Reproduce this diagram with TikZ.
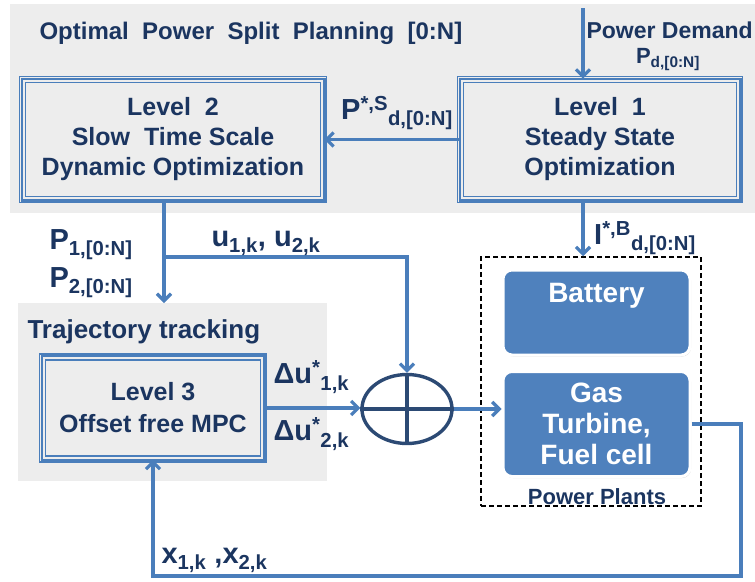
\documentclass[tikz,border=0pt]{standalone}
\usepackage{fontspec}
\setmainfont{Liberation Sans}
\usetikzlibrary{arrows.meta,positioning,calc,shapes.geometric,shadows}

\definecolor{linecol}{HTML}{4A7EBB}
\definecolor{textcol}{HTML}{1B3560}
\definecolor{panelcol}{HTML}{EDEDED}
\definecolor{plantcol}{HTML}{4F81BD}
\definecolor{sumcol}{HTML}{2C4A74}

\begin{document}
\begin{tikzpicture}[x=1pt,y=-1pt,>={Straight Barb[length=7pt,width=14pt]},
   every node/.style={font=\bfseries\fontsize{25}{30}\selectfont,text=textcol},
   panel/.style={fill=panelcol,draw=none,inner sep=0pt},
   levelbox/.style={draw=linecol,line width=1.6pt,double=panelcol,double distance=4.4pt,
     fill=panelcol,inner sep=0pt,align=center},
   midline/.style={draw=linecol,line width=2.4pt},
   flow/.style={draw=linecol,line width=3.2pt},
   sig/.style={font=\bfseries\fontsize{29}{30}\selectfont},
   plant/.style={fill=plantcol,draw=white,line width=3pt,rounded corners=9pt,inner sep=0pt,
     drop shadow={shadow xshift=1pt,shadow yshift=-1.5pt,fill=black!35,opacity=.5}},
   plantlabel/.style={text=white,align=center,font=\bfseries\fontsize{28}{31}\selectfont}]
  \useasboundingbox (0,0) rectangle (755,581);

  % background panels
  \node[panel,anchor=north west,minimum width=745pt,minimum height=209pt] (planpanel) at (10,4) {};
  \node[panel,anchor=north west,minimum width=309pt,minimum height=178pt] (trackpanel) at (18,303) {};
  \node[anchor=west,font=\bfseries\fontsize{24}{28}\selectfont] (title) at (36,33)
    {Optimal\ \ Power\ \ Split\ \ Planning\ \ [0:N]};
  \node[anchor=west,font=\bfseries\fontsize{26}{30}\selectfont] (tracktitle) at (24,332) {Trajectory tracking};

  % level boxes
  \node[levelbox,minimum width=301pt,minimum height=120pt] (l2) at (173,139.5)
    {Level\ \ 2\\ Slow\ \ Time Scale\\ Dynamic Optimization};
  \node[levelbox,minimum width=279pt,minimum height=120pt] (l1) at (600,139.5)
    {Level\ \ 1\\ Steady State\\ Optimization};
  \node[levelbox,minimum width=221pt,minimum height=102pt,
    font=\bfseries\fontsize{25}{32}\selectfont] (l3) at (153,408)
    {Level 3\\ Offset\ free\ MPC};
  \foreach \n in {l1,l2,l3}
    \draw[midline] (\n.south west) rectangle (\n.north east);

  % power plants
  \node[draw=black,dash pattern=on 5pt off 3pt,line width=1.5pt,minimum width=220pt,minimum height=249pt] (plants) at (591,381.5) {};
  \node[font=\bfseries\fontsize{22}{26}\selectfont] (plantstitle) at (597,497) {Power Plants};
  \node[plant,minimum width=187pt,minimum height=85pt] (batt) at (596.5,312.5) {};
  \node[plantlabel] (battlabel) at ($(batt.north)+(0,27)$) {Battery};
  \node[plant,minimum width=187pt,minimum height=105pt] (gas) at (596.5,424) {};
  \node[plantlabel] (gaslabel) at (gas) {Gas\\ Turbine,\\ Fuel cell};

  % summing junction
  \node[ellipse,draw=sumcol,line width=3.4pt,minimum width=90pt,minimum height=69pt,inner sep=0pt] (sum) at (407,409) {};
  \draw[sumcol,line width=3.4pt] (sum.north) -- (sum.south) (sum.west) -- (sum.east);

  % connectors
  \coordinate (pdtop) at (583,8);
  \coordinate (split) at (164,257);
  \coordinate (fbcorner) at (741,576);
  \draw[flow,->] (pdtop) -- (pdtop |- l1.north);
  \draw[flow,->] (l1.west) -- (l2.east);
  \draw[flow,->] (pdtop |- l1.south) -- (pdtop |- plants.north);
  \draw[flow,->] (split |- l2.south) -- (split) -- (split |- trackpanel.north);
  \draw[flow,->] (split) -| (sum.north);
  \draw[flow,->] (l3.east) -- (l3.east -| sum.west);
  \draw[flow,->] (sum.east) -- (sum.east -| gas.west);
  \draw[flow,->] (gas.east) -| (fbcorner) -| (l3.south);

  % signal labels
  \node[font=\bfseries\fontsize{23}{26}\selectfont,anchor=west] (pdlabel) at (583,30) {Power Demand};
  \node[font=\bfseries\fontsize{22}{26}\selectfont] (pdsig) at (668,60) {P\textsubscript{d,[0:N]}};
  \node[sig] (psig) at (397,113) {P\textsuperscript{*,S}\textsubscript{d,[0:N]}};
  \node[sig] (isig) at (645,238) {I\textsuperscript{*,B}\textsubscript{d,[0:N]}};
  \node[sig,anchor=west] (p1sig) at (46,245) {P\textsubscript{1,[0:N]}};
  \node[sig,anchor=west] (p2sig) at (46,283) {P\textsubscript{2,[0:N]}};
  \node[sig,anchor=west] (usig) at (208,243) {u\textsubscript{1,k}, u\textsubscript{2,k}};
  \node[sig,anchor=west] (du1sig) at (270,377) {Δu\textsuperscript{*}\textsubscript{1,k}};
  \node[sig,anchor=west] (du2sig) at (270,434) {Δu\textsuperscript{*}\textsubscript{2,k}};
  \node[sig,anchor=west] (xsig) at (158,560) {x\textsubscript{1,k}\ ,x\textsubscript{2,k}};
\end{tikzpicture}
\end{document}
